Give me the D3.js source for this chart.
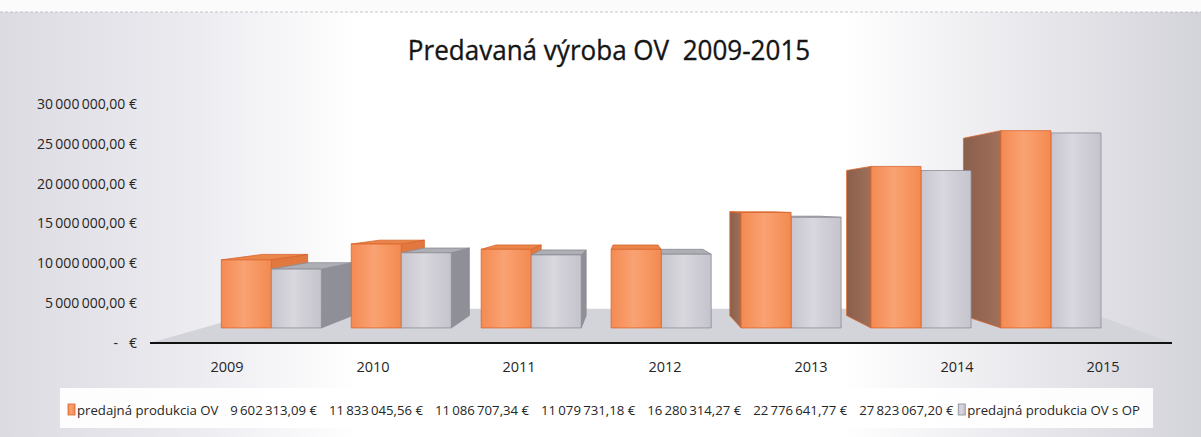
<!DOCTYPE html>
<html>
<head>
<meta charset="utf-8">
<script src="https://cdn.jsdelivr.net/npm/d3@7"></script>
<style>
    body { margin: 0; background: #fff; }
    svg text { font-family: "Open Sans", sans-serif; fill: #262626; white-space: pre; }
</style>
</head>
<body>
<div id="chart"></div>
<script>
// data
const years = ["2009", "2010", "2011", "2012", "2013", "2014", "2015"];
const seriesNames = ["predajná produkcia OV", "predajná produkcia OV s OP"];
const predajOV = [9602313.09, 11833045.56, 11086707.34, 11079731.18, 16280314.27, 22776641.77, 27823067.20];
const predajOVsOP = [8300000, 10600000, 10300000, 10400000, 15600000, 22200000, 27500000];
const yTicks = [0, 5000000, 10000000, 15000000, 20000000, 25000000, 30000000];

const width = 1201, height = 437;

const svg = d3.select("#chart").append("svg")
    .attr("width", width)
    .attr("height", height);

const defs = svg.append("defs");

// page background: grey at the sides, white in the middle
const bg = defs.append("linearGradient").attr("id", "bg").attr("x1", 0).attr("x2", 1).attr("y1", 0).attr("y2", 0);
[[0, "#dcdbe2"], [0.16, "#ecebf0"], [0.3, "#ffffff"], [0.7, "#ffffff"], [0.84, "#ebebef"], [1, "#d3d3da"]]
    .forEach(s => bg.append("stop").attr("offset", s[0]).attr("stop-color", s[1]));

const orangeGrad = defs.append("linearGradient").attr("id", "orangeFront").attr("x1", 0).attr("x2", 1).attr("y1", 0).attr("y2", 0);
[[0, "#f48a52"], [0.45, "#f9a273"], [0.6, "#f89c69"], [1, "#f38a51"]]
    .forEach(s => orangeGrad.append("stop").attr("offset", s[0]).attr("stop-color", s[1]));

const greyGrad = defs.append("linearGradient").attr("id", "greyFront").attr("x1", 0).attr("x2", 1).attr("y1", 0).attr("y2", 0);
[[0, "#c7c6cf"], [0.45, "#d9d8df"], [0.6, "#d2d1d9"], [1, "#c5c4cd"]]
    .forEach(s => greyGrad.append("stop").attr("offset", s[0]).attr("stop-color", s[1]));

const sideGrad = defs.append("linearGradient").attr("id", "orangeSide").attr("x1", 0).attr("x2", 1).attr("y1", 0).attr("y2", 0);
[[0, "#8a5f4c"], [1, "#a0705a"]]
    .forEach(s => sideGrad.append("stop").attr("offset", s[0]).attr("stop-color", s[1]));

svg.append("rect").attr("width", width).attr("height", height).attr("fill", "url(#bg)");
svg.append("rect").attr("width", width).attr("height", 12).attr("fill", "#fbfbfc");
svg.append("line").attr("x1", 0).attr("x2", width).attr("y1", 12).attr("y2", 12)
    .attr("stroke", "#b9b9c0").attr("stroke-width", 0.8).attr("stroke-dasharray", "3,2");

// squeeze a text to a share of its natural width (the original font is narrower)
function condense(sel, k) {
    sel.each(function () {
        const w = this.getComputedTextLength();
        d3.select(this).attr("textLength", w * k).attr("lengthAdjust", "spacingAndGlyphs");
    });
}

// Title
svg.append("text")
    .attr("x", 609)
    .attr("y", 60)
    .attr("text-anchor", "middle")
    .style("font-size", "28px")
    .style("fill", "#151515")
    .style("stroke", "#151515")
    .style("stroke-width", 0.35)
    .text("Predavaná výroba OV  2009-2015")
    .call(condense, 0.93);

// Scales (front plane of the 3D box)
const yScale = d3.scaleLinear().domain([0, 30000000]).range([343, 104]);
const xScale = d3.scaleBand().domain(years).range([154, 1176]).paddingInner(0.23).paddingOuter(0.115);
const xSub = d3.scaleBand().domain([0, 1]).range([0, xScale.bandwidth()]);

// perspective: vanishing point and depth of the bars
const V = { x: 630, y: 206 };
const sFront = 0.89, sBack = 0.80;
const proj = (x, y, s) => [V.x + (x - V.x) * s, V.y + (y - V.y) * s];
const poly = pts => "M" + pts.map(p => p.join(",")).join("L") + "Z";

// floor
const y0 = yScale(0);
svg.append("path")
    .attr("d", poly([proj(150, y0, 1), proj(1172, y0, 1), proj(1230, y0, 0.75), proj(150, y0, 0.75)]))
    .attr("fill", "#d3d3da");

// Y axis labels
const loc = d3.formatLocale({ decimal: ",", thousands: "\u2009", grouping: [3], currency: ["", ""] });
const fmt = loc.format(",.2f");
const yAxis = d3.axisLeft(yScale)
    .tickValues(yTicks)
    .tickSize(0)
    .tickPadding(0)
    .tickFormat(d => d === 0 ? "-   €" : fmt(d) + " €");

const yAxisG = svg.append("g").attr("transform", "translate(137,0)").call(yAxis);
yAxisG.select(".domain").remove();
yAxisG.selectAll("text")
    .attr("font-family", null)
    .style("font-size", "14px")
    .style("fill", "#262626");

// bars as boxes
const series = [
    { name: seriesNames[0], values: predajOV, front: "url(#orangeFront)", left: "url(#orangeSide)", right: "#e0783f", top: "#ea8549", stroke: "#d9652d" },
    { name: seriesNames[1], values: predajOVsOP, front: "url(#greyFront)", left: "#9d9da4", right: "#8f9097", top: "#aeaeb5", stroke: "#8b8c94" }
];

const boxes = [];
series.forEach((s, si) => {
    years.forEach((yr, i) => {
        const x0 = xScale(yr) + xSub(si);
        boxes.push({ s, x0, x1: x0 + xSub.bandwidth(), yTop: yScale(s.values[i]), yBot: y0 });
    });
});

// draw farthest from the vanishing point first
boxes.sort((a, b) => Math.abs((b.x0 + b.x1) / 2 - V.x) - Math.abs((a.x0 + a.x1) / 2 - V.x));

const barG = svg.append("g");
boxes.forEach(b => {
    const g = barG.append("g").attr("stroke", b.s.stroke).attr("stroke-width", 0.8).attr("stroke-linejoin", "round");
    if (b.x0 > V.x) {
        g.append("path").attr("fill", b.s.left)
            .attr("d", poly([proj(b.x0, b.yTop, sFront), proj(b.x0, b.yTop, sBack), proj(b.x0, b.yBot, sBack), proj(b.x0, b.yBot, sFront)]));
    }
    if (b.x1 < V.x) {
        g.append("path").attr("fill", b.s.right)
            .attr("d", poly([proj(b.x1, b.yTop, sFront), proj(b.x1, b.yTop, sBack), proj(b.x1, b.yBot, sBack), proj(b.x1, b.yBot, sFront)]));
    }
    if (b.yTop > V.y) {
        g.append("path").attr("fill", b.s.top)
            .attr("d", poly([proj(b.x0, b.yTop, sFront), proj(b.x1, b.yTop, sFront), proj(b.x1, b.yTop, sBack), proj(b.x0, b.yTop, sBack)]));
    }
    g.append("path").attr("fill", b.s.front)
        .attr("d", poly([proj(b.x0, b.yTop, sFront), proj(b.x1, b.yTop, sFront), proj(b.x1, b.yBot, sFront), proj(b.x0, b.yBot, sFront)]));
});

// category axis
svg.append("line")
    .attr("x1", 150).attr("x2", 1172)
    .attr("y1", y0).attr("y2", y0)
    .attr("stroke", "#111").attr("stroke-width", 2.2);

const xAxis = d3.axisBottom(xScale).tickSize(0).tickPadding(0);
const xAxisG = svg.append("g").attr("transform", `translate(0,${y0 + 29})`).call(xAxis);
xAxisG.select(".domain").remove();
xAxisG.selectAll("text")
    .attr("dy", null)
    .attr("font-family", null)
    .style("font-size", "14.5px")
    .style("fill", "#262626");

// legend with the values of the first series
svg.append("rect")
    .attr("x", 60).attr("y", 388).attr("width", 1093).attr("height", 40)
    .attr("fill", "#ffffff").attr("opacity", 0.92);

const legend = svg.append("g").attr("transform", "translate(68,415)");
const legendItems = [{ swatch: series[0] }, { text: series[0].name }];
predajOV.forEach(v => legendItems.push({ text: fmt(v) + " €" }));
legendItems.push({ swatch: series[1] }, { text: series[1].name });

// measure first, then spread the remaining room between the entries
const legendWidth = 1072, swatchW = 9;
let used = 0;
legendItems.forEach(it => {
    if (it.swatch) { used += swatchW; return; }
    it.el = legend.append("text").attr("y", 0).style("font-size", "13.2px").text(it.text);
    it.w = it.el.node().getComputedTextLength();
    used += it.w;
});
const nGaps = legendItems.filter(it => it.text).length - 1;
const gap = (legendWidth - used) / (nGaps - 0.6);

let pos = 0;
legendItems.forEach((it, i) => {
    if (it.swatch) {
        legend.append("rect").attr("x", pos).attr("y", -11).attr("width", 7).attr("height", 11)
            .attr("fill", it.swatch.front).attr("stroke", it.swatch.stroke).attr("stroke-width", 0.8);
        pos += swatchW;
    } else {
        it.el.attr("x", pos);
        pos += it.w;
        if (i < legendItems.length - 1) pos += legendItems[i + 1].swatch ? gap * 0.4 : gap;
    }
});
</script>
</body>
</html>
